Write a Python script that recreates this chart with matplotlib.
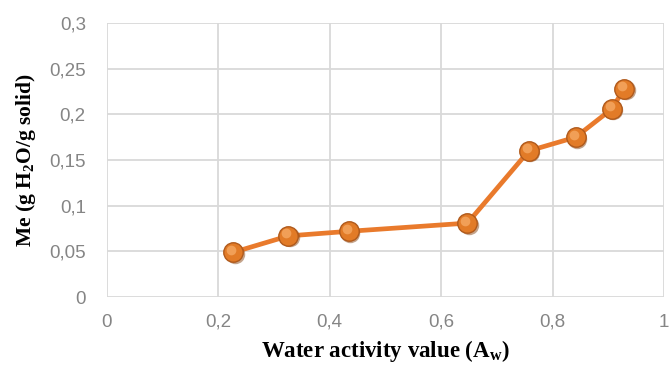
import matplotlib
matplotlib.use("Agg")
import matplotlib.pyplot as plt
from matplotlib.ticker import FuncFormatter
from matplotlib.transforms import ScaledTranslation

aw = [0.227, 0.326, 0.434, 0.647, 0.757, 0.841, 0.906, 0.928]
me = [0.049, 0.067, 0.072, 0.081, 0.160, 0.175, 0.206, 0.228]
xticks = [0, 0.2, 0.4, 0.6, 0.8, 1]
yticks = [0, 0.05, 0.1, 0.15, 0.2, 0.25, 0.3]

plt.rcParams['mathtext.default'] = 'regular'

fig = plt.figure(figsize=(6.71, 3.65), dpi=100)
ax = fig.add_axes([0.159, 0.186, 0.831, 0.751])

ax.plot(aw, me, color='#E97A2C', lw=3.4, zorder=3, solid_capstyle='round')
# shadow
sh = ax.transData + ScaledTranslation(1.5/100, -1.5/100, fig.dpi_scale_trans)
ax.plot(aw, me, 'o', ms=14, mfc='#8A4A1A', mec='none', zorder=4, alpha=0.5, transform=sh)
ax.plot(aw, me, 'o', ms=14, mfc='#E27B27', mec='#B05A1C', mew=1.0, zorder=5)
hl = ax.transData + ScaledTranslation(-2/100, 2.5/100, fig.dpi_scale_trans)
ax.plot(aw, me, 'o', ms=7, mfc='#F4A660', mec='none', zorder=6, alpha=0.85, transform=hl)

ax.set_xlim(0, 1)
ax.set_ylim(0, 0.3)
ax.set_xticks(xticks)
ax.set_yticks(yticks)

def fmt(v, pos):
    return ('%g' % round(v, 3)).replace('.', ',')

ax.xaxis.set_major_formatter(FuncFormatter(fmt))
ax.yaxis.set_major_formatter(FuncFormatter(fmt))

for s in ax.spines.values():
    s.set_visible(False)
ax.grid(True, color='#D9D9D9', lw=1.3)
ax.set_axisbelow(True)
ax.tick_params(length=0, labelsize=13.5, labelcolor='#858585')
ax.tick_params(axis='y', pad=15)
ax.tick_params(axis='x', pad=12)
for lab in ax.get_xticklabels() + ax.get_yticklabels():
    lab.set_family('Liberation Sans')

ax.set_xlabel('Water activity value (A$_w$)', family='Liberation Serif',
              fontweight='bold', fontsize=16.5, labelpad=5)
ax.set_ylabel('Me (g H$_2$O/g solid)', family='Liberation Serif',
              fontweight='bold', fontsize=15.5, labelpad=8)

fig.savefig('out.png', dpi=100)
